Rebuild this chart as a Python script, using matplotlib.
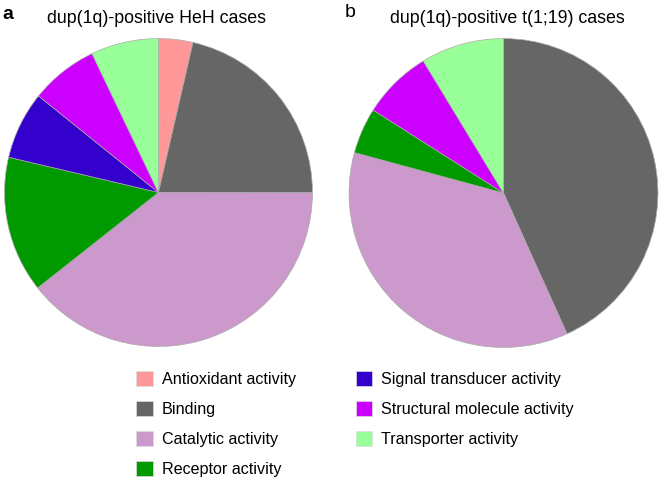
import matplotlib
matplotlib.use("Agg")
import matplotlib.pyplot as plt
from matplotlib.patches import Patch

plt.rcParams['font.family'] = ['Liberation Sans', 'DejaVu Sans']

categories = ['Antioxidant activity', 'Binding', 'Catalytic activity', 'Receptor activity',
              'Signal transducer activity', 'Structural molecule activity', 'Transporter activity']
colors = ['#FF9999', '#666666', '#CC99CC', '#009900', '#3300CC', '#CC00FF', '#99FF99']

# percent of genes per GO molecular function
heh_values = [3.6, 21.4, 39.3, 14.3, 7.1, 7.1, 7.1]
t119_values = [0, 43.3, 36.0, 4.8, 0, 7.3, 8.7]

W, H = 662, 484
fig = plt.figure(figsize=(W / 100, H / 100), dpi=100)


def draw_pie(cx, cy, r, values):
    ax = fig.add_axes([(cx - r) / W, 1 - (cy + r) / H, 2 * r / W, 2 * r / H])
    vals = [v for v in values if v > 0]
    cols = [c for v, c in zip(values, colors) if v > 0]
    ax.pie(vals, colors=cols, startangle=90, counterclock=False, radius=1,
           wedgeprops=dict(edgecolor='#aaaaaa', linewidth=0.5))
    ax.set_xlim(-1.01, 1.01)
    ax.set_ylim(-1.01, 1.01)
    ax.set_aspect('equal')
    ax.axis('off')
    return ax


draw_pie(158.5, 192.5, 155.5, heh_values)
draw_pie(503.5, 193, 156, t119_values)

fig.text(2 / W, 1 - 6 / H, 'a', fontsize=14, fontweight='bold', va='top', ha='left')
fig.text(345 / W, 1 - 4 / H, 'b', fontsize=14, va='top', ha='left')
fig.text(47 / W, 1 - 10 / H, 'dup(1q)-positive HeH cases', fontsize=12.8, va='top', ha='left')
fig.text(390 / W, 1 - 10 / H, 'dup(1q)-positive t(1;19) cases', fontsize=12.8, va='top', ha='left')

handles = [Patch(facecolor=c, edgecolor='#dddddd', linewidth=0.5) for c in colors]
fig.legend(handles, categories, loc='upper left', bbox_to_anchor=(136 / W, 1 - 371 / H),
           ncol=2, frameon=False, fontsize=11.6, handlelength=1.05, handleheight=1.05,
           handletextpad=0.55, labelspacing=0.87, columnspacing=3.7, borderpad=0,
           borderaxespad=0)

fig.savefig('out.png', dpi=100)
